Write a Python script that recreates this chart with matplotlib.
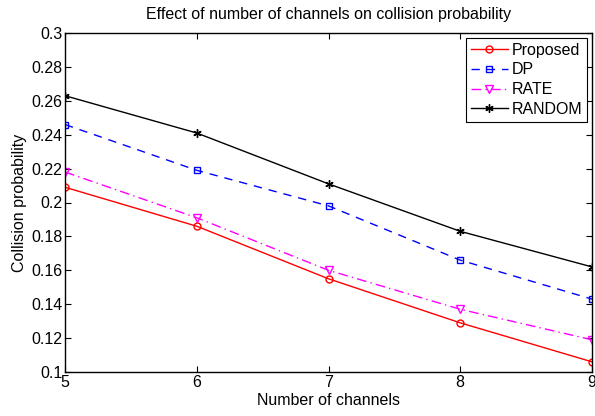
import matplotlib
matplotlib.use("Agg")
import matplotlib.pyplot as plt

channels = [5, 6, 7, 8, 9]
proposed = [0.209, 0.186, 0.155, 0.129, 0.106]
dp = [0.246, 0.219, 0.198, 0.166, 0.143]
rate = [0.218, 0.191, 0.160, 0.137, 0.119]
random_ = [0.263, 0.241, 0.211, 0.183, 0.162]
yticks = [0.1, 0.12, 0.14, 0.16, 0.18, 0.2, 0.22, 0.24, 0.26, 0.28, 0.3]
ytick_labels = ["0.1", "0.12", "0.14", "0.16", "0.18", "0.2", "0.22", "0.24", "0.26", "0.28", "0.3"]

plt.rcParams['font.family'] = ['Liberation Sans', 'DejaVu Sans']
FS = 11.5

fig = plt.figure(figsize=(5.95, 4.16), dpi=100)
ax = fig.add_axes([65/595, 1-372/416, 527/595, (372-33)/416])

ax.plot(channels, proposed, color='red', linestyle='-', marker='o', markersize=5,
        markerfacecolor='none', linewidth=1, label='Proposed')
ax.plot(channels, dp, color='blue', linestyle=(0, (6, 5)), marker='s', markersize=5,
        markerfacecolor='none', linewidth=1, label='DP')
ax.plot(channels, rate, color='magenta', linestyle=(0, (7, 3, 1, 3)), marker='v', markersize=6,
        markerfacecolor='none', linewidth=1, label='RATE')
ax.plot(channels, random_, color='black', linestyle='-', marker=(6, 2, 0), markersize=6,
        markeredgewidth=1, linewidth=1, label='RANDOM')

ax.set_xlim(5, 9)
ax.set_ylim(0.1, 0.3)
ax.set_xticks(channels)
ax.set_yticks(yticks)
ax.set_yticklabels(ytick_labels)
ax.tick_params(direction='in', top=True, right=True, labelsize=FS, length=4, pad=2)
for s in ax.spines.values():
    s.set_linewidth(1)

ax.set_xlabel('Number of channels', fontsize=FS, labelpad=2)
ax.set_ylabel('Collision probability', fontsize=FS, labelpad=3)
ax.set_title('Effect of number of channels on collision probability', fontsize=FS, pad=10)

leg = ax.legend(loc='upper right', fontsize=FS, fancybox=False, framealpha=1,
                edgecolor='black', handlelength=2.3, borderaxespad=0.3,
                labelspacing=0.3, handletextpad=0.25, borderpad=0.3)
leg.get_frame().set_linewidth(0.8)

fig.savefig('out.png', dpi=100)
